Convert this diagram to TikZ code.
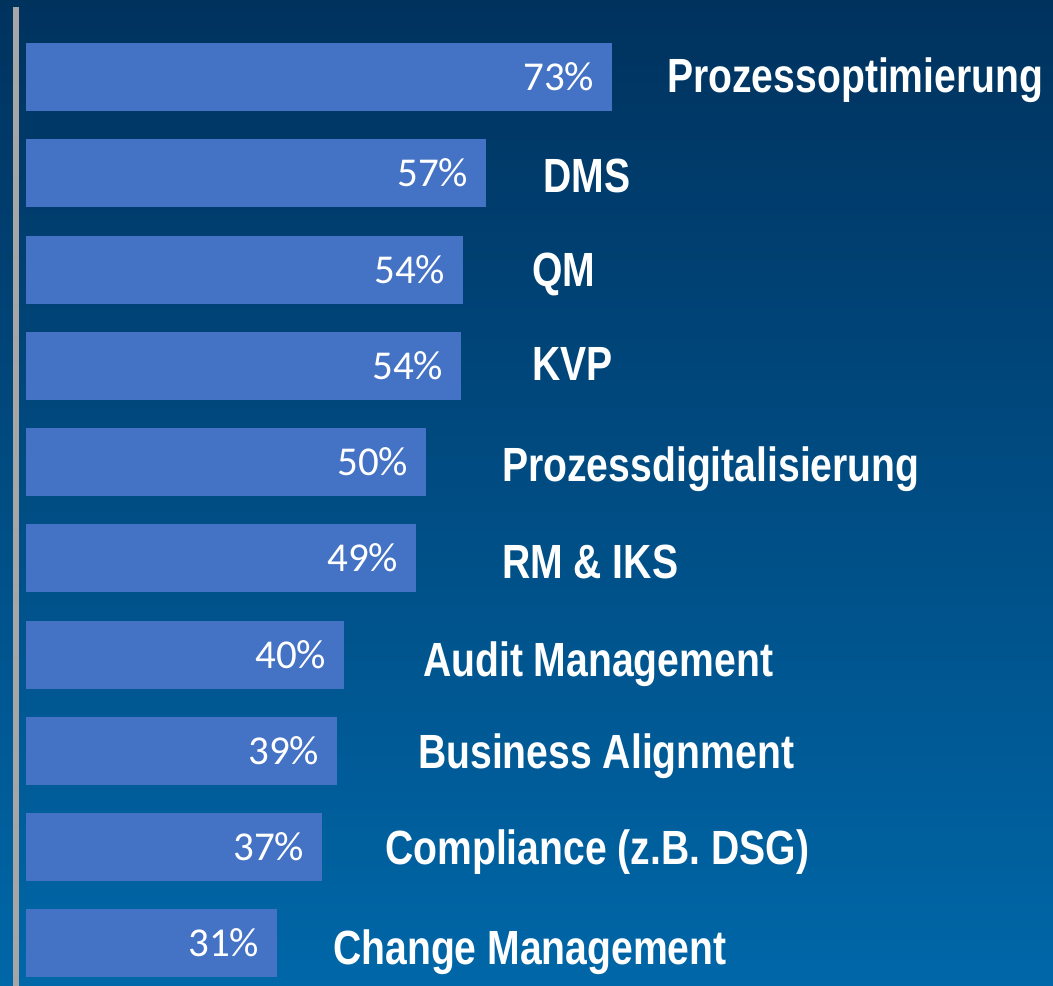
\documentclass[tikz,border=0pt]{standalone}
\usepackage{fontspec}
\usepackage{tikz}
\usetikzlibrary{positioning}

\newfontfamily\labelfont[FakeStretch=0.815]{Liberation Sans}
\newfontfamily\pctfont{Carlito}

\definecolor{barblue}{HTML}{4472C4}
\definecolor{bgtop}{HTML}{00325E}
\definecolor{bgbottom}{HTML}{0067A8}
\definecolor{axisgray}{HTML}{A6A6A6}

\begin{document}
\begin{tikzpicture}[
    x=1pt, y=-1pt,
    bar/.style={
        fill=barblue,
        inner sep=0pt,
        minimum height=68pt,
        anchor=west
    },
    pct/.style={
        text=white,
        inner sep=0pt,
        font=\pctfont\fontsize{41}{41}\selectfont
    },
    topic/.style={
        text=white,
        inner sep=0pt,
        anchor=base west,
        font=\labelfont\bfseries\fontsize{48}{48}\selectfont
    }
]

% Background
\shade[top color=bgtop, bottom color=bgbottom] (0,0) rectangle (1053,986);
\useasboundingbox (0,0) rectangle (1053,986);

% Axis
\coordinate (axistop) at (16,7);
\coordinate (axisbot) at (16,986);
\draw[axisgray, line width=6pt] (axistop) -- (axisbot);

% Bars
\node[bar, minimum width=586pt] (bar1)  at (26,77)  {};
\node[bar, minimum width=460pt] (bar2)  at (26,173) {};
\node[bar, minimum width=437pt] (bar3)  at (26,270) {};
\node[bar, minimum width=435pt] (bar4)  at (26,366) {};
\node[bar, minimum width=400pt] (bar5)  at (26,462) {};
\node[bar, minimum width=390pt] (bar6)  at (26,558) {};
\node[bar, minimum width=318pt] (bar7)  at (26,655) {};
\node[bar, minimum width=311pt] (bar8)  at (26,751) {};
\node[bar, minimum width=296pt] (bar9)  at (26,847) {};
\node[bar, minimum width=251pt] (bar10) at (26,943) {};

% Percentages inside the bars
\node[pct, left=18pt of bar1.east]  (pct1)  {73\%};
\node[pct, left=18pt of bar2.east]  (pct2)  {57\%};
\node[pct, left=18pt of bar3.east]  (pct3)  {54\%};
\node[pct, left=18pt of bar4.east]  (pct4)  {54\%};
\node[pct, left=18pt of bar5.east]  (pct5)  {50\%};
\node[pct, left=18pt of bar6.east]  (pct6)  {49\%};
\node[pct, left=18pt of bar7.east]  (pct7)  {40\%};
\node[pct, left=18pt of bar8.east]  (pct8)  {39\%};
\node[pct, left=18pt of bar9.east]  (pct9)  {37\%};
\node[pct, left=18pt of bar10.east] (pct10) {31\%};

% Topics
\node[topic] (optim)   at (667,92)  {Prozessoptimierung};
\node[topic] (dms)     at (543,192) {DMS};
\node[topic] (qm)      at (532,286) {QM};
\node[topic] (kvp)     at (532,380) {KVP};
\node[topic] (digital) at (502,481) {Prozessdigitalisierung};
\node[topic] (rmiks)   at (502,578) {RM \& IKS};
\node[topic] (audit)   at (423,676) {Audit Management};
\node[topic] (align)   at (418,768) {Business Alignment};
\node[topic] (compl)   at (385,864) {Compliance (z.B. DSG)};
\node[topic] (change)  at (333,964) {Change Management};

\end{tikzpicture}
\end{document}
